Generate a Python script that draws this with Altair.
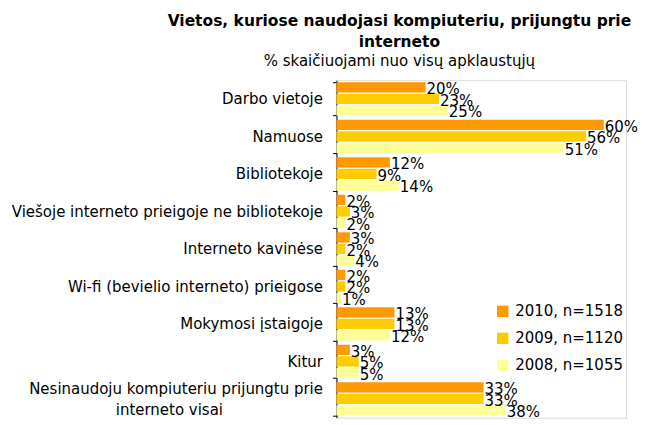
import altair as alt
import pandas as pd

categories = [
    "Darbo vietoje",
    "Namuose",
    "Bibliotekoje",
    "Viešoje interneto prieigoje ne bibliotekoje",
    "Interneto kavinėse ",
    "Wi-fi (bevielio interneto) prieigose",
    "Mokymosi įstaigoje",
    "Kitur",
    "Nesinaudoju kompiuteriu prijungtu prie\ninterneto visai",
]
series = ["2010, n=1518", "2009, n=1120", "2008, n=1055"]
colors = ["#FF9900", "#FFCC00", "#FFFF99"]
v2010 = [20, 60, 12, 2, 3, 2, 13, 3, 33]
v2009 = [23, 56, 9, 3, 2, 2, 13, 5, 33]
v2008 = [25, 51, 14, 2, 4, 1, 12, 5, 38]

rows = []
for s, vals in zip(series, [v2010, v2009, v2008]):
    for c, v in zip(categories, vals):
        rows.append({"cat": c, "series": s, "v": v})
df = pd.DataFrame(rows)

FONT = "DejaVu Sans"
PAD = "\u2007" * 10 + "\u00a0" + "\u200b"  # centres the second line of a two-line label, as Excel does

y_enc = alt.Y(
    "cat:N",
    sort=categories,
    scale=alt.Scale(paddingInner=0.11, paddingOuter=0.055),
    axis=alt.Axis(
        title=None,
        labelExpr="split(indexof(datum.label, '\\n') >= 0 ? datum.label + '" + PAD + "' : datum.label, '\\n')",
        labelOffset={"condition": {"test": "indexof(datum.label, '\\n') >= 0", "value": -10.5}, "value": 0},
        labelFontSize=15,
        labelFont=FONT,
        labelColor="black",
        labelLimit=400,
        labelPadding=10,
        labelLineHeight=21,
        tickSize=4,
        tickColor="black",
        domainColor="black",
        tickBand="extent",
        grid=False,
    ),
)
yoff = alt.YOffset("series:N", sort=series, scale=alt.Scale(paddingInner=0.11, paddingOuter=0))
x_enc = alt.X("v:Q", scale=alt.Scale(domain=[0, 65], nice=False), axis=None)

bars = alt.Chart(df).mark_bar().encode(
    y=y_enc,
    yOffset=yoff,
    x=x_enc,
    color=alt.Color(
        "series:N",
        sort=series,
        scale=alt.Scale(domain=series, range=colors),
        legend=alt.Legend(
            title=None,
            orient="none",
            legendX=159,
            legendY=224,
            symbolType="square",
            symbolSize=130,
            symbolStrokeWidth=0,
            labelFontSize=15,
            labelFont=FONT,
            labelColor="black",
            labelLimit=300,
            rowPadding=11,
            labelOffset=5,
        ),
    ),
)

labels = alt.Chart(df).transform_calculate(
    lbl="format(datum.v, 'd') + '%'"
).mark_text(
    align="left", baseline="middle", dx=1, dy=2, fontSize=15, font=FONT, color="black"
).encode(
    y=alt.Y("cat:N", sort=categories),
    yOffset=alt.YOffset("series:N", sort=series),
    x=alt.X("v:Q"),
    text="lbl:N",
)

chart = (
    alt.layer(bars, labels)
    .properties(
        width=290,
        height=338,
        padding={"left": 3, "top": 5, "right": 0, "bottom": 0},
        title=alt.TitleParams(
            text=["Vietos, kuriose naudojasi kompiuteriu, prijungtu prie", "interneto"],
            subtitle="% skaičiuojami nuo visų apklaustųjų",
            font=FONT,
            fontSize=15.5,
            fontWeight="bold",
            subtitleFont=FONT,
            subtitleFontSize=15,
            subtitleColor="black",
            color="black",
            lineHeight=21,
            subtitlePadding=4,
            anchor="middle",
            frame="group",
            dx=-82,
            offset=4,
        ),
    )
    .configure_view(stroke=None)
    .configure(background="white")
)

chart.save("out.html", embed_options={"renderer": "svg", "actions": False})
